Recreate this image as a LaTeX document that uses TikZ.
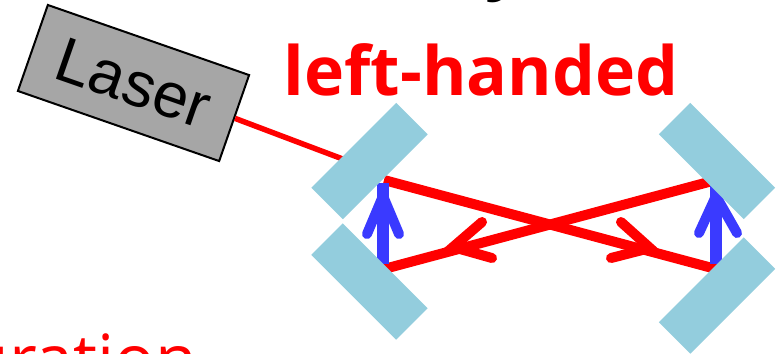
\documentclass[tikz,border=0pt]{standalone}
\usepackage{fontspec}
\setmainfont{Open Sans}
\newfontfamily\laserfont{Liberation Sans}
\usetikzlibrary{positioning}
\definecolor{mirrorblue}{HTML}{93CDDD}
\definecolor{lasergray}{HTML}{A6A6A6}
\definecolor{arrowblue}{HTML}{3A3AFF}
\tikzset{
  mirror/.style={fill=mirrorblue, minimum width=1.2cm, minimum height=0.445cm, inner sep=0pt},
  beam/.style={red, line width=0.1cm, line cap=round},
  shift arrow/.style={arrowblue, line width=0.1cm, line cap=round},
}
\begin{document}
\begin{tikzpicture}[x=0.01cm, y=-0.01cm]
    \useasboundingbox (0,0) rectangle (783,353);

    % Laser
    \node[draw=black, line width=0.02cm, fill=lasergray, rotate=-19.2, minimum width=2.13cm, minimum height=0.91cm, inner sep=0pt, font=\laserfont\fontsize{18}{18}\selectfont] (laser) at (133.5,83) {Laser};

    % Beam spots on the mirrors
    \coordinate (beamin) at (348,161);
    \coordinate (spotA) at (384,180);
    \coordinate (spotB) at (716,180);
    \coordinate (spotC) at (716,269);
    \coordinate (spotD) at (384,269);

    % Beam from the laser
    \draw[red, line width=0.055cm] (laser.east) -- (beamin);

    % Beams between the mirrors
    \draw[beam, line cap=butt] (spotA) -- (spotC);
    \draw[beam, line cap=butt] (spotB) -- (spotD);

    % Heads on the beams
    \coordinate (tipL) at (453,247);
    \coordinate (tipLa) at (482,222);
    \coordinate (tipLb) at (492,258);
    \coordinate (tipR) at (650,248);
    \coordinate (tipRa) at (621,222);
    \coordinate (tipRb) at (611,258);
    \draw[beam] (tipLa) -- (tipL) -- (tipLb);
    \draw[beam] (tipRa) -- (tipR) -- (tipRb);

    % Blue arrows
    \coordinate (upL) at (383,183);
    \coordinate (downL) at (383,264);
    \coordinate (headL) at (383,196);
    \coordinate (headLa) at (367,234);
    \coordinate (headLb) at (399,234);
    \coordinate (upR) at (716,183);
    \coordinate (downR) at (716,264);
    \coordinate (headR) at (716,196);
    \coordinate (headRa) at (699,233);
    \coordinate (headRb) at (737,233);
    \draw[shift arrow, line width=0.115cm, line cap=butt] (upL) -- (downL);
    \draw[shift arrow] (headLa) -- (headL) -- (headLb);
    \draw[shift arrow, line width=0.115cm, line cap=butt] (upR) -- (downR);
    \draw[shift arrow] (headRa) -- (headR) -- (headRb);

    % Mirrors
    \node[mirror, rotate=45] (mirrorA) at (369.5,161) {};
    \node[mirror, rotate=-45] (mirrorB) at (717,161) {};
    \node[mirror, rotate=45] (mirrorC) at (717,295.5) {};
    \node[mirror, rotate=-45] (mirrorD) at (369.5,281.5) {};

    % Labels
    \node[text=red, font=\bfseries\fontsize{19.3}{20}\selectfont, anchor=base] (title) at (481,95) {left-handed};
    \node[text=red, font=\fontsize{19.3}{20}\selectfont, anchor=base east, inner xsep=0pt] (config) at (198,383) {uration};
    \node[text=black, font=\bfseries\fontsize{19.3}{20}\selectfont, anchor=base] (topline) at (505,-14) {y};
\end{tikzpicture}
\end{document}
